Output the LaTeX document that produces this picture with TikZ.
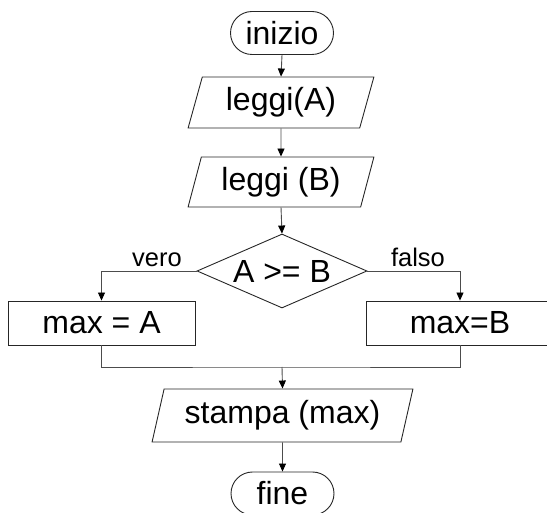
\documentclass[tikz,border=0pt]{standalone}
\usepackage{fontspec}
\setmainfont{Liberation Sans}
\usetikzlibrary{shapes.geometric,shapes.misc,arrows.meta}

\begin{document}
\begin{tikzpicture}[x=1pt,y=-1pt,
    testo/.style={font=\fontsize{32}{38}\selectfont},
    bordo/.style={draw=black!85,line width=0.9pt,inner sep=0pt},
    terminale/.style={testo,bordo,rounded rectangle,minimum width=103pt,minimum height=43pt},
    io/.style={testo,bordo,trapezium,trapezium left angle=71.6,trapezium right angle=108.4,trapezium stretches=true},
    blocco/.style={testo,bordo,rectangle,minimum width=187pt,minimum height=44pt},
    scelta/.style={testo,bordo,diamond,aspect=2.3,minimum width=170pt,minimum height=74pt},
    etichetta/.style={font=\fontsize{25.5}{30}\selectfont,anchor=base},
    linea/.style={draw=black!70,line width=0.9pt},
    freccia/.style={linea,-{Triangle[length=8pt,width=7pt,black]}}]
% page size of the reference
    \useasboundingbox (0,0) rectangle (547,513);
    \clip (0,0) rectangle (547,513);

% Draw blocks
    \node[terminale] (inizio) at (282,33) {inizio};
    \node[io,minimum width=186pt,minimum height=51pt] (leggiA) at (281,102.5) {leggi(A)};
    \node[io,minimum width=186pt,minimum height=50pt] (leggiB) at (281,182) {leggi (B)};
    \node[scelta] (cond) at (282,271) {A >= B};
    \node[blocco] (maxA) at (101.5,323) {max = A};
    \node[blocco] (maxB) at (460,323) {max=B};
    \node[io,minimum width=261pt,minimum height=53pt] (stampa) at (282.5,415.5) {stampa (max)};
    \node[terminale] (fine) at (282.5,493.5) {fine};
    \coordinate (unione) at (282,367);

% Draw connectors
  \foreach \a/\b in {inizio/leggiA, leggiA/leggiB, leggiB/cond, stampa/fine} {
    \draw[freccia] (\a.south) -- (\b.north);
  }
    \draw[freccia] (cond.west) -| (maxA.north);
    \draw[freccia] (cond.east) -| (maxB.north);
    \draw[linea] (maxA.south) |- (unione) -| (maxB.south);
    \draw[freccia] (unione) -- (stampa.north);

    % labels of the branches
    \node[etichetta] (vero) at (157,267) {vero};
    \node[etichetta] (falso) at (418,267) {falso};

\end{tikzpicture}
\end{document}
